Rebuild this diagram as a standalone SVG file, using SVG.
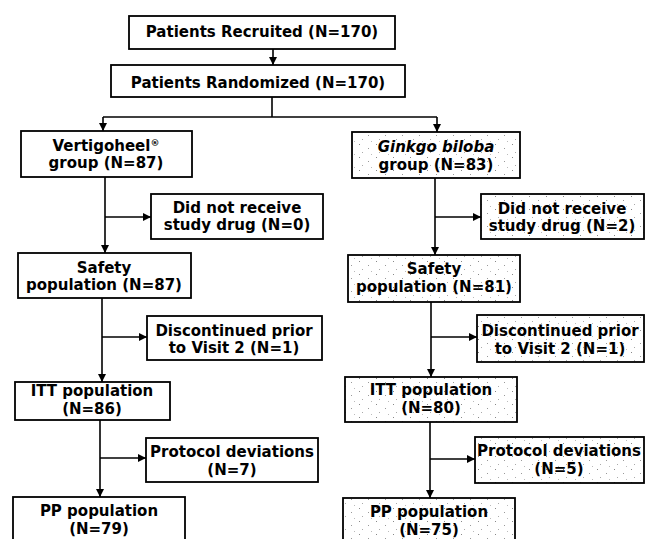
<svg xmlns="http://www.w3.org/2000/svg" width="646" height="539" viewBox="0 0 646 539">
<style>
.box{fill:#fff;stroke:#000;stroke-width:1.8}
.g{fill:url(#speckle);stroke:#000;stroke-width:1.8}
.t{font-family:"DejaVu Sans",Verdana,sans-serif;font-weight:bold;font-size:15px;fill:#000;text-anchor:middle}
.ln{stroke:#000;stroke-width:1.6;fill:none}
</style>
<defs>
<marker id="ah" viewBox="0 0 10 10" refX="10" refY="5" markerWidth="8" markerHeight="8" markerUnits="userSpaceOnUse" orient="auto">
<path d="M0,0 L10,5 L0,10 Z" fill="#000"/>
</marker>
<pattern id="speckle" width="17" height="13" patternUnits="userSpaceOnUse">
<rect width="17" height="13" fill="#fff"/>
<rect x="2" y="1" width="1" height="1" fill="#888"/>
<rect x="11" y="5" width="1" height="1" fill="#999"/>
<rect x="5" y="9" width="1" height="1" fill="#aaa"/>
<rect x="14" y="11" width="1" height="1" fill="#bbb"/>
</pattern>
</defs>

<g id="connectors">
<line class="ln" x1="273" y1="49" x2="273" y2="65" marker-end="url(#ah)"/>
<polyline class="ln" points="272,97 272,117"/>
<polyline class="ln" points="103,117 437,117"/>
<line class="ln" x1="103" y1="117" x2="103" y2="131" marker-end="url(#ah)"/>
<line class="ln" x1="437" y1="117" x2="437" y2="132" marker-end="url(#ah)"/>

<line class="ln" x1="105" y1="177" x2="105" y2="253" marker-end="url(#ah)"/>
<line class="ln" x1="105" y1="217" x2="151" y2="217" marker-end="url(#ah)"/>
<line class="ln" x1="102" y1="298" x2="102" y2="382" marker-end="url(#ah)"/>
<line class="ln" x1="102" y1="337" x2="147" y2="337" marker-end="url(#ah)"/>
<line class="ln" x1="100" y1="420" x2="100" y2="497" marker-end="url(#ah)"/>
<line class="ln" x1="100" y1="458" x2="146" y2="458" marker-end="url(#ah)"/>

<line class="ln" x1="435" y1="178" x2="435" y2="255" marker-end="url(#ah)"/>
<line class="ln" x1="435" y1="217" x2="481" y2="217" marker-end="url(#ah)"/>
<line class="ln" x1="431" y1="302" x2="431" y2="377" marker-end="url(#ah)"/>
<line class="ln" x1="431" y1="337" x2="477" y2="337" marker-end="url(#ah)"/>
<line class="ln" x1="430" y1="422" x2="430" y2="498" marker-end="url(#ah)"/>
<line class="ln" x1="430" y1="459" x2="475" y2="459" marker-end="url(#ah)"/>
</g>

<g id="recruited">
<rect class="box" x="129" y="16" width="266" height="33"/>
<text class="t" x="262" y="37">Patients Recruited (N=170)</text>
</g>
<g id="randomized">
<rect class="box" x="111" y="65" width="294" height="32"/>
<text class="t" x="258" y="88">Patients Randomized (N=170)</text>
</g>

<g id="vertigoheel">
<rect class="box" x="21" y="131" width="171" height="46"/>
<text class="t" x="106" y="151">Vertigoheel<tspan font-size="9" dy="-5">®</tspan></text>
<text class="t" x="106" y="168">group (N=87)</text>
</g>
<g id="notreceive-l">
<rect class="box" x="151" y="194" width="172" height="45"/>
<text class="t" x="237" y="213">Did not receive</text>
<text class="t" x="237" y="230">study drug (N=0)</text>
</g>
<g id="safety-l">
<rect class="box" x="18" y="253" width="173" height="45"/>
<text class="t" x="104" y="273">Safety</text>
<text class="t" x="104" y="290">population (N=87)</text>
</g>
<g id="discontinued-l">
<rect class="box" x="147" y="316" width="175" height="44"/>
<text class="t" x="234" y="336">Discontinued prior</text>
<text class="t" x="234" y="353">to Visit 2 (N=1)</text>
</g>
<g id="itt-l">
<rect class="box" x="15" y="382" width="155" height="38"/>
<text class="t" x="92" y="396">ITT population</text>
<text class="t" x="92" y="414">(N=86)</text>
</g>
<g id="protocol-l">
<rect class="box" x="146" y="438" width="172" height="44"/>
<text class="t" x="232" y="457">Protocol deviations</text>
<text class="t" x="232" y="475">(N=7)</text>
</g>
<g id="pp-l">
<rect class="box" x="13" y="497" width="172" height="52"/>
<text class="t" x="99" y="516">PP population</text>
<text class="t" x="99" y="534">(N=79)</text>
</g>

<g id="ginkgo">
<rect class="g" x="352" y="132" width="168" height="46"/>
<text class="t" x="436" y="152"><tspan font-style="italic">Ginkgo biloba</tspan></text>
<text class="t" x="436" y="170">group (N=83)</text>
</g>
<g id="notreceive-r">
<rect class="g" x="481" y="194" width="163" height="45"/>
<text class="t" x="562" y="214">Did not receive</text>
<text class="t" x="562" y="231">study drug (N=2)</text>
</g>
<g id="safety-r">
<rect class="g" x="348" y="255" width="172" height="47"/>
<text class="t" x="434" y="274">Safety</text>
<text class="t" x="434" y="292">population (N=81)</text>
</g>
<g id="discontinued-r">
<rect class="g" x="477" y="315" width="167" height="47"/>
<text class="t" x="560" y="336">Discontinued prior</text>
<text class="t" x="560" y="354">to Visit 2 (N=1)</text>
</g>
<g id="itt-r">
<rect class="g" x="345" y="377" width="172" height="45"/>
<text class="t" x="431" y="395">ITT population</text>
<text class="t" x="431" y="413">(N=80)</text>
</g>
<g id="protocol-r">
<rect class="g" x="475" y="437" width="169" height="46"/>
<text class="t" x="559" y="456">Protocol deviations</text>
<text class="t" x="559" y="474">(N=5)</text>
</g>
<g id="pp-r">
<rect class="g" x="343" y="498" width="172" height="52"/>
<text class="t" x="429" y="517">PP population</text>
<text class="t" x="429" y="535">(N=75)</text>
</g>
</svg>
